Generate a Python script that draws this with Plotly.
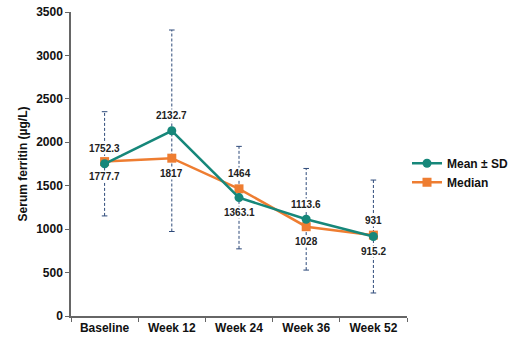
import plotly.graph_objects as go

categories = ["Baseline", "Week 12", "Week 24", "Week 36", "Week 52"]
mean_vals = [1752.3, 2132.7, 1363.1, 1113.6, 915.2]
sd_vals = [600, 1160, 590, 585, 650]
median_vals = [1777.7, 1817, 1464, 1028, 931]
mean_text = ["1752.3", "2132.7", "1363.1", "1113.6", "915.2"]
median_text = ["1777.7", "1817", "1464", "1028", "931"]
mean_side = [1, 1, -1, 1, -1]      # +1 label above, -1 label below
median_side = [-1, -1, 1, -1, 1]
y_ticks = [0, 500, 1000, 1500, 2000, 2500, 3000, 3500]

TEAL = "#16877A"
ORANGE = "#EE7D31"
NAVY = "#2E4A7A"
FONT = "Liberation Sans, Arial, sans-serif"

ex, ey = [], []
cx, cy = [], []
for c, m, s in zip(categories, mean_vals, sd_vals):
    ex += [c, c, None]
    ey += [m - s, m + s, None]
    cx += [c, c]
    cy += [m - s, m + s]

fig = go.Figure()
fig.add_trace(go.Scatter(x=ex, y=ey, mode="lines", line=dict(color=NAVY, width=1, dash="3px,2px"),
                         showlegend=False, hoverinfo="skip"))
fig.add_trace(go.Scatter(x=cx, y=cy, mode="markers",
                         marker=dict(symbol="line-ew", size=4, line=dict(color=NAVY, width=1)),
                         showlegend=False, hoverinfo="skip"))
fig.add_trace(go.Scatter(x=categories, y=median_vals, mode="lines+markers", name="Median",
                         line=dict(color=ORANGE, width=2.5),
                         marker=dict(symbol="square", size=9, color=ORANGE)))
fig.add_trace(go.Scatter(x=categories, y=mean_vals, mode="lines+markers", name="Mean ± SD",
                         line=dict(color=TEAL, width=2.5),
                         marker=dict(symbol="circle", size=9, color=TEAL)))

for vals, texts, sides in ((mean_vals, mean_text, mean_side), (median_vals, median_text, median_side)):
    for c, v, t, s in zip(categories, vals, texts, sides):
        fig.add_annotation(x=c, y=v, text=t, showarrow=False, yshift=15 * s,
                           bgcolor="white", borderpad=0,
                           font=dict(family=FONT, size=10, color="#222222", weight="bold"))

fig.update_layout(
    width=520, height=345,
    margin=dict(l=71, r=113, t=12, b=29, autoexpand=False),
    paper_bgcolor="white", plot_bgcolor="white",
    font=dict(family=FONT, size=12, color="#111111"),
    legend=dict(x=1.0, y=0.55, yanchor="top", traceorder="reversed",
                font=dict(family=FONT, size=12, color="#111111", weight="bold"),
                itemwidth=30, tracegroupgap=0),
    xaxis=dict(type="category", categoryorder="array", categoryarray=categories,
               range=[-0.5, len(categories) - 0.5],
               automargin=False,
               showline=True, linecolor="#666666", linewidth=1.5,
               ticks="outside", tickson="boundaries", ticklen=4, tickcolor="#666666",
               tickfont=dict(family=FONT, size=12, color="#111111", weight="bold"),
               showgrid=False, zeroline=False),
    yaxis=dict(range=[0, 3500], tickvals=y_ticks, automargin=False,
               ticklabeloverflow="allow",
               showline=True, linecolor="#666666", linewidth=1.5,
               ticks="outside", ticklen=4, tickcolor="#666666",
               tickfont=dict(family=FONT, size=12, color="#111111", weight="bold"),
               title=dict(text="Serum ferritin (µg/L)", standoff=6,
                          font=dict(family=FONT, size=12, color="#111111", weight="bold")),
               showgrid=False, zeroline=False),
)

fig.write_html("out.html", config={"displayModeBar": False},
               post_script="document.body.style.margin='0';")
